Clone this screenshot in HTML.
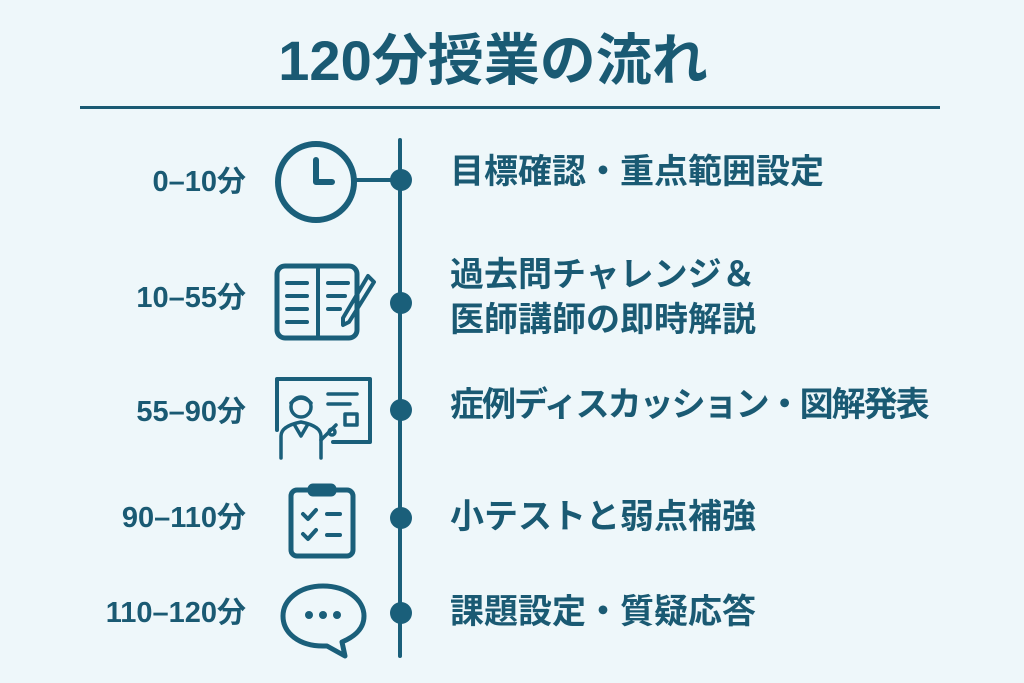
<!DOCTYPE html>
<html><head><meta charset="utf-8"><style>
body{margin:0;width:1024px;height:683px;background:#eef7fa;overflow:hidden;position:relative;font-family:"Liberation Sans","Noto Sans CJK JP",sans-serif;color:#1a5a73;font-weight:bold}
.t{position:absolute;white-space:nowrap}
.l{right:778px;font-size:29px;line-height:36px;text-align:right}
.r{left:450px;font-size:34px;line-height:45px}
</style></head><body>
<div class="t" style="left:0;width:986px;top:28px;text-align:center;font-size:56px;line-height:66px">120分授業の流れ</div>
<div style="position:absolute;left:80px;top:106px;width:860px;height:3px;background:#1a5a73"></div>
<svg width="1024" height="683" style="position:absolute;left:0;top:0" fill="none" stroke="#1a5f7a" stroke-linecap="round" stroke-linejoin="round">
<line x1="400" y1="140" x2="400" y2="656" stroke-width="4"/>
<line x1="356" y1="180" x2="400" y2="180" stroke-width="4"/>
<g fill="#1a5f7a" stroke="none">
<circle cx="401" cy="180" r="11"/><circle cx="401" cy="303" r="11"/><circle cx="401" cy="410" r="11"/><circle cx="401" cy="518" r="11"/><circle cx="401" cy="613" r="11"/>
</g>
<circle cx="316" cy="182" r="38" stroke-width="6"/>
<polyline points="316,160 316,182 332,182" stroke-width="6"/>
<rect x="277" y="266" width="80" height="72" rx="8" stroke-width="5"/>
<line x1="318" y1="266" x2="318" y2="338" stroke-width="4"/>
<g stroke-width="4"><line x1="287" y1="283" x2="307" y2="283"/><line x1="287" y1="296" x2="307" y2="296"/><line x1="287" y1="309" x2="307" y2="309"/><line x1="287" y1="322" x2="307" y2="322"/>
<line x1="328" y1="283" x2="348" y2="283"/><line x1="328" y1="296" x2="345" y2="296"/><line x1="328" y1="309" x2="340" y2="309"/></g>
<path d="M368 276 L374 282 L349 322 L343 325 L343 318 Z" stroke-width="4"/>
<polyline points="277,430 277,379 370,379 370,442 333,442" stroke-width="4"/>
<g stroke-width="3.5"><line x1="328" y1="394" x2="357" y2="394"/><line x1="328" y1="404" x2="350" y2="404"/><rect x="345" y="414" width="12" height="11"/>
<circle cx="301" cy="407" r="10"/><path d="M291 403 q10 -10 20 0"/><path d="M281 458 v-22 q0 -10 20 -14 q20 4 20 14 v22"/><path d="M294 424 l7 12 l7 -12"/><line x1="321" y1="440" x2="336" y2="425"/><circle cx="332" cy="432" r="3"/></g>
<rect x="291" y="490" width="62" height="66" rx="6" stroke-width="5"/>
<rect x="309" y="485" width="26" height="10" rx="4" fill="#1a5f7a" stroke-width="3"/>
<g stroke-width="4"><polyline points="303,514 308,519 316,510"/><line x1="327" y1="514" x2="340" y2="514"/><polyline points="303,534 308,539 316,530"/><line x1="327" y1="535" x2="340" y2="535"/></g>
<path d="M323 586 c-24 0 -40 14 -40 30 c0 17 16 30 40 30 h4 l18 10 l-3 -14 c14 -6 22 -14 22 -26 c0 -16 -17 -30 -41 -30 z" stroke-width="5"/>
<g fill="#1a5f7a" stroke="none"><circle cx="309" cy="615" r="4"/><circle cx="323" cy="615" r="4"/><circle cx="337" cy="615" r="4"/></g>
</svg>
<div class="t l" style="top:164px">0–10分</div>
<div class="t l" style="top:280px">10–55分</div>
<div class="t l" style="top:394px">55–90分</div>
<div class="t l" style="top:500px">90–110分</div>
<div class="t l" style="top:595px">110–120分</div>
<div class="t r" style="top:150px">目標確認・重点範囲設定</div>
<div class="t r" style="top:253px">過去問チャレンジ＆<br>医師講師の即時解説</div>
<div class="t r" style="top:383px;letter-spacing:-2px">症例ディスカッション・図解発表</div>
<div class="t r" style="top:495px">小テストと弱点補強</div>
<div class="t r" style="top:590px">課題設定・質疑応答</div>
</body></html>
